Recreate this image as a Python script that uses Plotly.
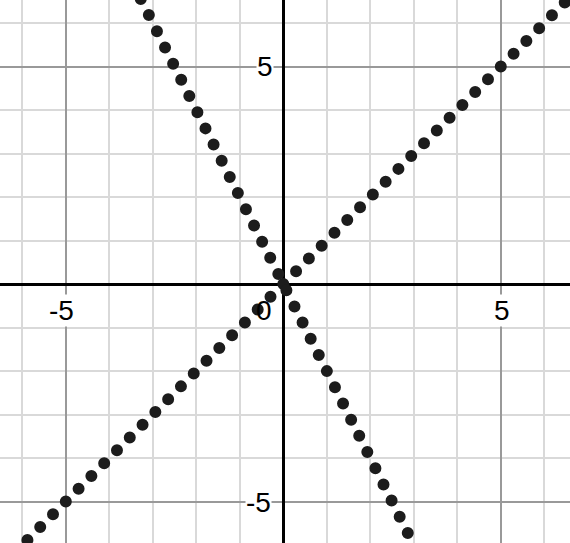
import math
import plotly.graph_objects as go

# Lines (endpoints): y = x and y = -2x
line1_x = [-6.765, 6.765]
line1_y = [-6.765, 6.765]
line2_x = [-3.649, 3.233]
line2_y = [7.298, -6.466]

# Axis labels
label_text = ["-5", "5", "0", "5", "-5"]
label_x = [-5.09, 5.03, -0.44, -0.43, -0.56]
label_y = [-0.62, -0.60, -0.60, 4.99, -5.03]

W, H = 570, 543
x_range = [-6.513, 6.591]
y_range = [-5.954, 6.529]
scale = W / (x_range[1] - x_range[0])
period = 5 * math.sqrt(2) / 17 * scale  # dot spacing in px

dot_color = "#1c1c1c"
fig = go.Figure()
for xs, ys in [(line1_x, line1_y), (line2_x, line2_y)]:
    fig.add_trace(go.Scatter(
        x=xs, y=ys, mode="lines",
        line=dict(color=dot_color, width=12, dash=f"0px,{period:.3f}px"),
        hoverinfo="skip", showlegend=False, cliponaxis=True))

for t, x, y in zip(label_text, label_x, label_y):
    fig.add_annotation(x=x, y=y, text=t, showarrow=False,
                       xanchor="center", yanchor="middle",
                       bgcolor="white" if t != "0" else "rgba(0,0,0,0)",
                       borderpad=0,
                       font=dict(family="Arial, Liberation Sans, sans-serif", size=28, color="black"))

axis_common = dict(
    showticklabels=False, ticks="", tick0=0, dtick=5,
    showgrid=True, gridcolor="#999999", gridwidth=1.6,
    minor=dict(dtick=1, tick0=0, showgrid=True, gridcolor="#d9d9d9", gridwidth=1.6),
    zeroline=True, zerolinecolor="black", zerolinewidth=2.6,
    showline=False, fixedrange=True,
)
fig.update_xaxes(range=x_range, **axis_common)
fig.update_yaxes(range=y_range, **axis_common)
fig.update_layout(
    width=W, height=H, margin=dict(l=0, r=0, t=0, b=0),
    plot_bgcolor="white", paper_bgcolor="white", showlegend=False,
)

post = """
document.body.style.margin='0';
function rc(){document.querySelectorAll('.scatterlayer path.js-line').forEach(function(p){p.style.strokeLinecap='round';});}
rc();
var gd=document.getElementsByClassName('plotly-graph-div')[0];
if(gd&&gd.on){gd.on('plotly_afterplot', rc);}
"""
fig.write_html("out.html", post_script=post, config={"displayModeBar": False})
